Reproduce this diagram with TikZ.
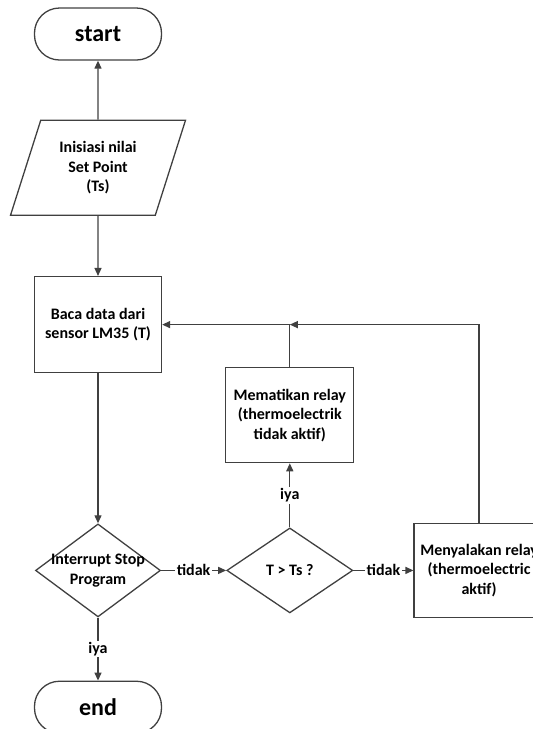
\documentclass[tikz,border=0pt]{standalone}
\usepackage{fontspec}
\setmainfont{Carlito}
\usetikzlibrary{positioning,arrows.meta,shapes.geometric}

\newcommand{\teks}{\fontsize{16}{19.5}\selectfont\bfseries}

\begin{document}
\begin{tikzpicture}[
    x=1pt, y=1pt,
    garis/.style={draw=black!75, line width=1.3pt},
    terminal/.style={
        garis,
        rounded corners=25pt,
        minimum width=127pt,
        minimum height=52pt,
        font=\fontsize{24}{28}\selectfont\bfseries
    },
    proses/.style={
        garis,
        minimum width=128pt,
        minimum height=95pt,
        inner sep=2pt,
        align=center,
        font=\teks
    },
    masukan/.style={
        garis,
        trapezium,
        trapezium left angle=63,
        trapezium right angle=117,
        trapezium stretches body=true,
        minimum width=175pt,
        minimum height=95pt,
        align=center,
        font=\teks
    },
    keputusan/.style={
        garis,
        diamond,
        minimum width=125pt,
        inner sep=0pt
    },
    ket/.style={fill=white, inner sep=1.5pt, font=\teks},
    >={Triangle[length=8pt,width=7pt]}
]

\useasboundingbox (0,0) rectangle (533,-729);

\node[terminal] (start) at (98,-34) {start};

\node[masukan, below=59pt of start] (inisiasi)
{Inisiasi nilai\\Set Point\\(Ts)};

\node[proses, minimum width=127pt, minimum height=96pt, below=60pt of inisiasi] (baca)
{Baca data dari\\sensor LM35 (T)};

\node[keputusan, minimum height=93pt, below=150pt of baca,
    label={[align=center, font=\teks]center:Interrupt Stop\\Program}] (interupsi) {};

\node[terminal, below=63pt of interupsi] (selesai) {end};

\node[keputusan, minimum width=126pt, minimum height=85pt, right=65pt of interupsi,
    label={[font=\teks]center:T > Ts ?}] (banding) {};

\node[proses, above=64pt of banding] (mematikan)
{Mematikan relay\\(thermoelectrik\\tidak aktif)};

\node[proses, minimum width=130pt, minimum height=94pt, right=60pt of banding] (menyalakan)
{Menyalakan relay\\(thermoelectric\\aktif)};

\coordinate (gabung) at (mematikan.north |- baca.east);

\draw[garis, ->] (inisiasi) -- (start);
\draw[garis, ->] (inisiasi) -- (baca);
\draw[garis, ->] (baca) -- (interupsi);
\draw[garis, ->] (interupsi) -- node[ket] {tidak} (banding);
\draw[garis, ->] (banding) -- node[ket] {tidak} (menyalakan);
\draw[garis, ->] (banding) -- node[ket] {iya} (mematikan);
\draw[garis, ->] (interupsi) -- node[ket] {iya} (selesai);
\draw[garis, ->] (mematikan) -- (gabung) -- (baca.east);
\draw[garis, ->] (menyalakan) |- (gabung);

\end{tikzpicture}
\end{document}
